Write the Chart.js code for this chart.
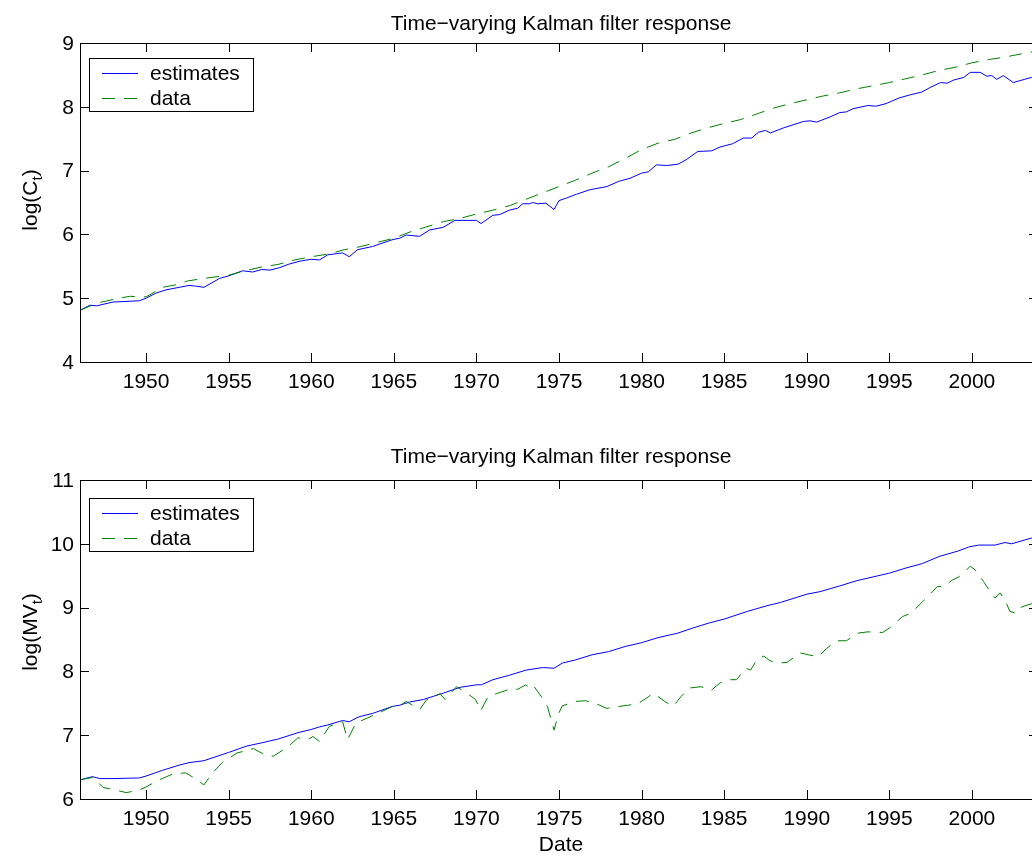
<!DOCTYPE html>
<html>
<head>
<meta charset="utf-8">
<title>Time-varying Kalman filter response</title>
<script src="https://cdn.jsdelivr.net/npm/chart.js@4"></script>
<style>
  html, body { margin: 0; padding: 0; background: #fff; overflow: hidden; }
  #wrap { position: relative; width: 1032px; height: 856px; overflow: hidden; }
  canvas { position: absolute; left: 0; top: 0; }
</style>
</head>
<body>
<div id="wrap">
  <canvas id="consumptionChart" width="1050" height="856"></canvas>
  <canvas id="moneyChart" width="1050" height="856"></canvas>
</div>
<script>
// Axis ticks
const yearTicks = [1950, 1955, 1960, 1965, 1970, 1975, 1980, 1985, 1990, 1995, 2000];
const cTicks = [4, 5, 6, 7, 8, 9];
const mvTicks = [6, 7, 8, 9, 10, 11];

// log(C_t): filter estimates
const cEstYears = [1946.0, 1946.6, 1947.0, 1948.0, 1949.6, 1950.0, 1950.6, 1951.2, 1952.0, 1952.6,
  1953.0, 1953.5, 1954.45, 1955.0, 1955.85, 1956.45, 1957.0, 1957.5, 1958.1, 1958.6,
  1959.3, 1960.0, 1960.5, 1961.0, 1961.9, 1962.3, 1962.8, 1963.7, 1964.95, 1965.35,
  1965.75, 1966.56, 1967.17, 1967.98, 1968.7, 1970.0, 1970.28, 1971.0, 1971.4, 1972.0,
  1972.5, 1972.8, 1973.2, 1973.4, 1973.7, 1974.2, 1974.7, 1975.0, 1975.45, 1976.06,
  1976.87, 1977.9, 1978.6, 1979.3, 1980.0, 1980.4, 1980.9, 1981.5, 1982.2, 1982.7,
  1983.4, 1984.25, 1984.75, 1985.5, 1986.16, 1986.67, 1987.07, 1987.5, 1987.8, 1988.6,
  1989.8, 1990.2, 1990.6, 1991.4, 1992.0, 1992.4, 1992.8, 1993.7, 1994.2, 1994.8,
  1995.6, 1996.3, 1996.95, 1997.45, 1998.1, 1998.5, 1998.9, 1999.5, 1999.9, 2000.5,
  2000.9, 2001.2, 2001.5, 2001.9, 2002.5, 2002.9, 2003.6, 2004.0];
const cEstValues = [4.81, 4.89, 4.88, 4.94, 4.96, 5.00, 5.08, 5.13, 5.17, 5.20,
  5.19, 5.17, 5.31, 5.35, 5.43, 5.41, 5.45, 5.44, 5.48, 5.53,
  5.58, 5.61, 5.60, 5.68, 5.71, 5.65, 5.76, 5.81, 5.92, 5.94,
  5.99, 5.97, 6.07, 6.11, 6.22, 6.22, 6.17, 6.30, 6.31, 6.38,
  6.41, 6.48, 6.48, 6.50, 6.48, 6.49, 6.39, 6.53, 6.57, 6.63,
  6.70, 6.75, 6.83, 6.88, 6.96, 6.98, 7.09, 7.08, 7.10, 7.17,
  7.30, 7.31, 7.37, 7.42, 7.51, 7.51, 7.60, 7.63, 7.59, 7.67,
  7.77, 7.78, 7.76, 7.84, 7.91, 7.92, 7.97, 8.02, 8.01, 8.05,
  8.14, 8.19, 8.23, 8.30, 8.38, 8.37, 8.42, 8.46, 8.54, 8.54,
  8.48, 8.49, 8.43, 8.49, 8.38, 8.41, 8.46, 8.51];

// log(C_t): observed data
const cDataYears = [1946, 1947, 1948, 1949, 1950, 1951, 1952, 1952.5, 1953.5, 1955,
  1956, 1957, 1958, 1959, 1960, 1961, 1962, 1963, 1965, 1966,
  1967, 1968, 1969, 1970, 1971, 1972, 1973, 1974, 1975, 1976,
  1977, 1978, 1979, 1980, 1981, 1982, 1983, 1984, 1985, 1986,
  1987, 1988, 1989, 1990, 1991, 1992, 1993, 1994, 1995, 1996,
  1997, 1998, 1999, 2000, 2001, 2002, 2003, 2004];
const cDataValues = [4.81, 4.92, 4.98, 5.03, 5.02, 5.17, 5.22, 5.27, 5.31, 5.36,
  5.43, 5.49, 5.53, 5.60, 5.65, 5.69, 5.76, 5.81, 5.94, 6.04,
  6.12, 6.20, 6.25, 6.32, 6.38, 6.45, 6.55, 6.65, 6.75, 6.85,
  6.96, 7.06, 7.19, 7.33, 7.43, 7.49, 7.59, 7.67, 7.74, 7.80,
  7.89, 7.98, 8.05, 8.11, 8.17, 8.22, 8.28, 8.33, 8.38, 8.44,
  8.50, 8.57, 8.62, 8.69, 8.74, 8.78, 8.83, 8.88];

// log(MV_t): filter estimates
const mvEstYears = [1946.0, 1946.75, 1947.2, 1948.0, 1949.6, 1950.0, 1951.0, 1952.0, 1952.6, 1953.5,
  1955.0, 1956.1, 1957.0, 1958.0, 1959.2, 1960.0, 1960.5, 1961.0, 1961.9, 1962.3,
  1962.9, 1963.7, 1964.9, 1965.35, 1965.95, 1966.8, 1968.0, 1969.0, 1970.0, 1970.3,
  1971.0, 1972.0, 1973.0, 1974.0, 1974.7, 1975.2, 1976.0, 1977.0, 1978.0, 1979.0,
  1980.0, 1981.0, 1982.2, 1983.1, 1984.1, 1985.0, 1986.4, 1987.6, 1988.4, 1990.0,
  1990.8, 1992.0, 1993.0, 1994.0, 1995.0, 1996.0, 1997.0, 1998.0, 1999.2, 1999.8,
  2000.4, 2001.4, 2002.0, 2002.4, 2003.6, 2004.0];
const mvEstValues = [6.30, 6.35, 6.32, 6.32, 6.33, 6.36, 6.45, 6.53, 6.57, 6.60,
  6.73, 6.83, 6.88, 6.94, 7.04, 7.09, 7.13, 7.16, 7.23, 7.21,
  7.29, 7.34, 7.45, 7.47, 7.52, 7.56, 7.66, 7.75, 7.79, 7.79,
  7.87, 7.94, 8.02, 8.06, 8.05, 8.13, 8.18, 8.26, 8.31, 8.39,
  8.45, 8.53, 8.60, 8.68, 8.76, 8.82, 8.94, 9.03, 9.08, 9.21,
  9.25, 9.34, 9.42, 9.48, 9.54, 9.62, 9.69, 9.80, 9.89, 9.95,
  9.98, 9.98, 10.02, 10.00, 10.09, 10.11];

// log(MV_t): observed data
const mvDataYears = [1946.0, 1946.8, 1947.4, 1948.0, 1948.8, 1949.6, 1950.0, 1950.8, 1951.6, 1952.4,
  1953.1, 1953.5, 1954.0, 1954.6, 1955.5, 1956.5, 1957.0, 1957.7, 1958.6, 1959.2,
  1959.8, 1960.1, 1960.5, 1961.1, 1961.9, 1962.2, 1962.7, 1963.5, 1964.1, 1964.9,
  1965.35, 1965.75, 1966.56, 1966.97, 1967.8, 1968.1, 1968.8, 1969.3, 1969.95, 1970.25,
  1970.7, 1971.2, 1972.0, 1972.5, 1973.0, 1973.3, 1973.5, 1974.0, 1974.3, 1974.7,
  1974.98, 1975.2, 1976.0, 1976.6, 1977.2, 1977.9, 1978.6, 1979.2, 1979.8, 1980.3,
  1980.7, 1981.4, 1981.9, 1982.4, 1982.9, 1983.6, 1984.2, 1984.75, 1985.35, 1985.75,
  1986.3, 1986.6, 1987.0, 1987.4, 1987.7, 1988.1, 1988.8, 1989.6, 1990.1, 1990.7,
  1991.2, 1991.8, 1992.4, 1993.1, 1993.7, 1994.6, 1995.0, 1995.8, 1996.3, 1997.0,
  1997.3, 1997.9, 1998.3, 1998.8, 1999.2, 1999.6, 1999.9, 2000.2, 2000.7, 2001.1,
  2001.4, 2001.7, 2002.0, 2002.3, 2002.7, 2003.0, 2003.6, 2004.0];
const mvDataValues = [6.30, 6.34, 6.18, 6.15, 6.10, 6.14, 6.19, 6.30, 6.39, 6.41,
  6.30, 6.22, 6.40, 6.57, 6.72, 6.79, 6.72, 6.67, 6.82, 6.96,
  6.93, 6.98, 6.90, 7.14, 7.21, 6.93, 7.19, 7.28, 7.35, 7.45,
  7.46, 7.53, 7.40, 7.55, 7.65, 7.56, 7.76, 7.68, 7.56, 7.38,
  7.60, 7.65, 7.72, 7.72, 7.79, 7.72, 7.76, 7.58, 7.45, 7.08,
  7.34, 7.46, 7.53, 7.54, 7.50, 7.42, 7.45, 7.47, 7.50, 7.58,
  7.66, 7.53, 7.45, 7.61, 7.74, 7.76, 7.70, 7.82, 7.87, 7.87,
  8.05, 8.02, 8.19, 8.24, 8.18, 8.13, 8.14, 8.29, 8.26, 8.23,
  8.36, 8.48, 8.48, 8.60, 8.62, 8.61, 8.68, 8.86, 8.91, 9.09,
  9.16, 9.33, 9.33, 9.43, 9.48, 9.57, 9.65, 9.59, 9.41, 9.25,
  9.15, 9.23, 9.12, 8.94, 8.91, 9.01, 9.06, 9.05];

const FONT = '"Liberation Sans", Arial, Helvetica, sans-serif';
const BLUE = '#0000ff';
const GREEN = '#008000';

function pairs(xs, ys) {
  return xs.map((x, i) => ({ x: x, y: ys[i] }));
}

// Draws the MATLAB style axes box, inward ticks, labels, title and legend
const matlabAxes = {
  id: 'matlabAxes',
  afterDraw(chart, args, opts) {
    const ctx = chart.ctx;
    const a = chart.chartArea;
    const xs = chart.scales.x;
    const ys = chart.scales.y;
    const tick = 9;

    ctx.save();
    ctx.strokeStyle = '#000';
    ctx.lineWidth = 1;
    ctx.strokeRect(Math.round(a.left) + 0.5, Math.round(a.top) + 0.5,
      Math.round(a.right - a.left), Math.round(a.bottom - a.top));

    ctx.beginPath();
    yearTicks.forEach(v => {
      const px = Math.round(xs.getPixelForValue(v)) + 0.5;
      ctx.moveTo(px, a.bottom); ctx.lineTo(px, a.bottom - tick);
      ctx.moveTo(px, a.top); ctx.lineTo(px, a.top + tick);
    });
    opts.yTicks.forEach(v => {
      const py = Math.round(ys.getPixelForValue(v)) + 0.5;
      ctx.moveTo(a.left, py); ctx.lineTo(a.left + tick, py);
      ctx.moveTo(a.right, py); ctx.lineTo(a.right - tick, py);
    });
    ctx.stroke();

    ctx.fillStyle = '#000';
    ctx.font = '21px ' + FONT;

    // tick labels
    ctx.textAlign = 'center';
    ctx.textBaseline = 'alphabetic';
    yearTicks.forEach(v => ctx.fillText(String(v), xs.getPixelForValue(v), a.bottom + 26));
    ctx.textAlign = 'right';
    ctx.textBaseline = 'middle';
    opts.yTicks.forEach(v => ctx.fillText(String(v), a.left - 6, ys.getPixelForValue(v) + 1));

    // title
    ctx.textAlign = 'center';
    ctx.textBaseline = 'alphabetic';
    ctx.fillText(opts.title, (a.left + a.right) / 2 + 2, a.top - opts.titleGap);

    // x axis label
    if (opts.xLabel) {
      ctx.fillText(opts.xLabel, (a.left + a.right) / 2 + 2, a.bottom + 52);
    }

    // y axis label with subscript
    const main = opts.yLabel[0], sub = opts.yLabel[1], close = opts.yLabel[2];
    ctx.font = '21px ' + FONT;
    const w1 = ctx.measureText(main).width;
    const w3 = ctx.measureText(close).width;
    ctx.font = '15px ' + FONT;
    const w2 = ctx.measureText(sub).width;
    const total = w1 + w2 + w3;
    ctx.save();
    ctx.translate(37, opts.yLabelCenter);
    ctx.rotate(-Math.PI / 2);
    ctx.textAlign = 'left';
    ctx.font = '21px ' + FONT;
    ctx.fillText(main, -total / 2, 0);
    ctx.fillText(close, -total / 2 + w1 + w2, 0);
    ctx.font = '15px ' + FONT;
    ctx.fillText(sub, -total / 2 + w1, 5);
    ctx.restore();

    // legend
    const lg = opts.legend;
    ctx.fillStyle = '#fff';
    ctx.fillRect(lg.x, lg.y, lg.w, lg.h);
    ctx.strokeStyle = '#000';
    ctx.strokeRect(lg.x + 0.5, lg.y + 0.5, lg.w, lg.h);
    ctx.font = '21px ' + FONT;
    ctx.textAlign = 'left';
    ctx.textBaseline = 'middle';
    chart.data.datasets.forEach((ds, i) => {
      const ry = Math.round(lg.y + lg.rows[i]) + 0.5;
      ctx.save();
      ctx.strokeStyle = ds.borderColor;
      ctx.lineWidth = 1;
      ctx.setLineDash(ds.borderDash || []);
      ctx.beginPath();
      ctx.moveTo(lg.x + 13, ry);
      ctx.lineTo(lg.x + 49, ry);
      ctx.stroke();
      ctx.restore();
      ctx.fillStyle = '#000';
      ctx.fillText(ds.label, lg.x + 61, ry + 1);
    });
    ctx.restore();
  }
};

function makeChart(id, cfg) {
  return new Chart(document.getElementById(id).getContext('2d'), {
    type: 'line',
    data: {
      datasets: [
        {
          label: 'estimates',
          data: pairs(cfg.estYears, cfg.estValues),
          borderColor: BLUE,
          borderWidth: 1,
          pointRadius: 0,
          tension: 0,
          order: 1
        },
        {
          label: 'data',
          data: pairs(cfg.dataYears, cfg.dataValues),
          borderColor: GREEN,
          borderWidth: 1,
          borderDash: [13, 9],
          pointRadius: 0,
          tension: 0,
          order: 0
        }
      ]
    },
    options: {
      responsive: false,
      animation: false,
      events: [],
      layout: { padding: cfg.padding },
      scales: {
        x: { type: 'linear', min: 1946, max: 2004, display: false },
        y: { type: 'linear', min: cfg.yTicks[0], max: cfg.yTicks[cfg.yTicks.length - 1], display: false }
      },
      plugins: {
        legend: { display: false },
        tooltip: { enabled: false },
        matlabAxes: {
          yTicks: cfg.yTicks,
          title: 'Time\u2212varying Kalman filter response',
          titleGap: cfg.titleGap,
          xLabel: cfg.xLabel,
          yLabel: cfg.yLabel,
          yLabelCenter: cfg.yLabelCenter,
          legend: cfg.legend
        }
      }
    },
    plugins: [matlabAxes]
  });
}

// Upper panel: consumption
makeChart('consumptionChart', {
  estYears: cEstYears, estValues: cEstValues,
  dataYears: cDataYears, dataValues: cDataValues,
  yTicks: cTicks,
  padding: { left: 80, top: 43, right: 12, bottom: 494 },
  titleGap: 13,
  yLabel: ['log(C', 't', ')'],
  yLabelCenter: 200,
  legend: { x: 89, y: 58, w: 164, h: 53, rows: [15, 40] }
});

// Lower panel: money times velocity
makeChart('moneyChart', {
  estYears: mvEstYears, estValues: mvEstValues,
  dataYears: mvDataYears, dataValues: mvDataValues,
  yTicks: mvTicks,
  padding: { left: 80, top: 480, right: 12, bottom: 57 },
  titleGap: 17,
  xLabel: 'Date',
  yLabel: ['log(MV', 't', ')'],
  yLabelCenter: 632,
  legend: { x: 89, y: 498, w: 164, h: 53, rows: [15, 40] }
});
</script>
</body>
</html>
